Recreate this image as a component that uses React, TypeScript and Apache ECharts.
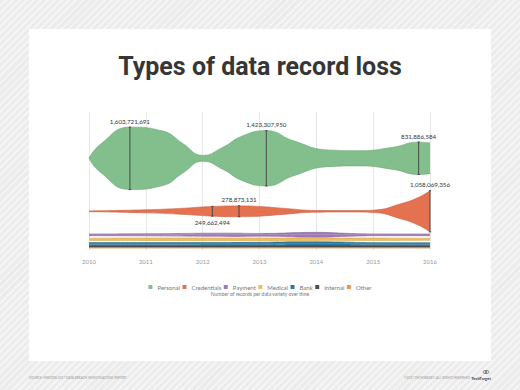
import React, { useEffect, useRef } from 'react';
import * as echarts from 'echarts';

// ---------- data ----------
const seriesNames = ['Personal', 'Credentials', 'Payment', 'Medical', 'Bank', 'Internal', 'Other'];

const personalYears = [2010, 2010.2, 2010.72, 2011.3, 2011.65, 2012, 2012.35, 2012.7, 2013.12, 2013.6, 2014.2, 2014.75, 2015.35, 2015.8, 2016];
const personalValues = [0, 720e6, 1603721691, 1400e6, 760e6, 150e6, 560e6, 1150e6, 1423307950, 900e6, 430e6, 390e6, 570e6, 831886584, 790e6];

const credentialsYears = [2010, 2011, 2011.6, 2012.17, 2012.64, 2013, 2013.4, 2014, 2014.6, 2015, 2015.5, 2015.8, 2016];
const credentialsValues = [20e6, 80e6, 150e6, 249662494, 278873131, 250e6, 160e6, 45e6, 35e6, 60e6, 400e6, 720e6, 1058069356];

const paymentYears = [2010, 2011, 2012.5, 2013, 2014, 2014.6, 2015.2, 2016];
const paymentValues = [45e6, 55e6, 85e6, 70e6, 125e6, 70e6, 45e6, 45e6];

const medicalYears = [2010, 2012, 2014, 2016];
const medicalValues = [60e6, 70e6, 70e6, 55e6];

const bankYears = [2010, 2012, 2013, 2013.8, 2014.3, 2015, 2016];
const bankValues = [50e6, 55e6, 65e6, 90e6, 85e6, 50e6, 45e6];

const internalYears = [2010, 2013, 2016];
const internalValues = [35e6, 35e6, 35e6];

const otherYears = [2010, 2013, 2016];
const otherValues = [15e6, 15e6, 15e6];

const annotationSeries = ['Personal', 'Personal', 'Personal', 'Credentials', 'Credentials', 'Credentials'];
const annotationYears = [2010.72, 2013.12, 2015.8, 2012.17, 2012.64, 2016];
const annotationSides = ['top', 'top', 'top', 'bottom', 'top', 'top'];

// ---------- styles / layout ----------
const seriesColors = ['#82bf8c', '#e4714f', '#9d7cb4', '#eebc62', '#2a7aa0', '#505050', '#e8964a'];
const edgeColors = ['#6aa676', '#cf6043', '#8a6aa0', '#dcaa50', '#236b8d', '#444444', '#d0803a'];
const lanePx = [158.3, 211.3, 234.8, 239.3, 243.6, 246.2, 247.8];

const GRID_TOP = 112;
const GRID_BOTTOM = 250;
const Y_MAX = 3.55e9;
const pxToValue = (py: number) => ((GRID_BOTTOM - py) / (GRID_BOTTOM - GRID_TOP)) * Y_MAX;
const SEAM = Y_MAX / (GRID_BOTTOM - GRID_TOP) * 0.4;

const bandYears = [personalYears, credentialsYears, paymentYears, medicalYears, bankYears, internalYears, otherYears];
const bandValues = [personalValues, credentialsValues, paymentValues, medicalValues, bankValues, internalValues, otherValues];

const FONT = 'Lato, "Noto Sans", sans-serif';

export default function App() {
  const ref = useRef<HTMLDivElement>(null);

  useEffect(() => {
    if (!ref.current) return;
    const chart = echarts.init(ref.current, undefined, { renderer: 'svg' });

    const series: any[] = [];
    seriesNames.forEach((name, i) => {
      const c = pxToValue(lanePx[i]);
      const yrs = bandYears[i];
      const vals = bandValues[i];
      const common = {
        type: 'line',
        smooth: 0.5,
        symbol: 'none',
        color: seriesColors[i],
        itemStyle: { color: seriesColors[i] },
        lineStyle: { width: 0.6, color: edgeColors[i] },
        z: 2,
      };
      series.push({
        ...common,
        name,
        data: yrs.map((y, j) => [y, c + vals[j] / 2]),
        areaStyle: { color: seriesColors[i], opacity: 1, origin: c },
      });
      series.push({
        ...common,
        name: '__lower_' + name,
        silent: true,
        data: yrs.map((y, j) => [y, c - vals[j] / 2]),
        areaStyle: { color: seriesColors[i], opacity: 1, origin: c + SEAM },
      });
    });

    const annData = annotationYears.map((yr, k) => {
      const bi = seriesNames.indexOf(annotationSeries[k]);
      const j = bandYears[bi].indexOf(yr);
      return [yr, pxToValue(lanePx[bi]), bandValues[bi][j], annotationSides[k] === 'top' ? 1 : 0];
    });

    series.push({
      type: 'custom',
      name: 'annotations',
      data: annData,
      encode: { x: 0, y: 1 },
      silent: true,
      z: 5,
      renderItem: (params: any, api: any) => {
        const x = api.value(0);
        const c = api.value(1);
        const v = api.value(2);
        const side = api.value(3);
        const top = api.coord([x, c + v / 2]);
        const bot = api.coord([x, c - v / 2]);
        const label = Math.round(v).toLocaleString('en-US');
        return {
          type: 'group',
          children: [
            { type: 'line', shape: { x1: top[0], y1: top[1], x2: bot[0], y2: bot[1] }, style: { stroke: '#4a4a4a', lineWidth: 1 } },
            { type: 'line', shape: { x1: top[0] - 1.2, y1: top[1], x2: top[0] + 1.2, y2: top[1] }, style: { stroke: '#4a4a4a', lineWidth: 1 } },
            { type: 'line', shape: { x1: bot[0] - 1.2, y1: bot[1], x2: bot[0] + 1.2, y2: bot[1] }, style: { stroke: '#4a4a4a', lineWidth: 1 } },
            {
              type: 'text',
              style: {
                text: label,
                x: top[0],
                y: side === 1 ? top[1] - 3 : bot[1] + 3,
                align: 'center',
                verticalAlign: side === 1 ? 'bottom' : 'top',
                fontSize: 6.2,
                fontFamily: FONT,
                fill: '#333',
              },
            },
          ],
        };
      },
    });

    chart.setOption({
      animation: false,
      graphic: [
        { type: 'rect', shape: { x: 29, y: 29, width: 462, height: 332 }, style: { fill: '#ffffff' }, z: -10 },
        {
          type: 'text',
          x: 260,
          y: 66,
          style: {
            text: 'Types of data record loss',
            align: 'center',
            verticalAlign: 'middle',
            fontSize: 25,
            fontWeight: 'bold',
            fontFamily: 'Roboto, "Noto Sans", sans-serif',
            fill: '#363636',
          },
        },
        {
          type: 'text',
          x: 260,
          y: 293.5,
          style: {
            text: 'Number of records per data variety over time',
            align: 'center',
            verticalAlign: 'middle',
            fontSize: 5,
            fontFamily: FONT,
            fill: '#777',
          },
        },
        {
          type: 'text',
          x: 29,
          y: 378,
          style: {
            text: 'SOURCE: VERIZON 2017 DATA BREACH INVESTIGATIONS REPORT',
            align: 'left',
            verticalAlign: 'middle',
            fontSize: 3.2,
            fontFamily: FONT,
            fill: '#999',
          },
        },
        {
          type: 'text',
          x: 470,
          y: 378,
          style: {
            text: '©2017 TECHTARGET. ALL RIGHTS RESERVED',
            align: 'right',
            verticalAlign: 'middle',
            fontSize: 3.2,
            fontFamily: FONT,
            fill: '#999',
          },
        },
        {
          type: 'text',
          x: 491,
          y: 378,
          style: {
            text: 'TechTarget',
            align: 'right',
            verticalAlign: 'middle',
            fontSize: 4.2,
            fontWeight: 'bold',
            fontFamily: FONT,
            fill: '#444',
          },
        },
        { type: 'ellipse', shape: { cx: 486, cy: 372, rx: 3, ry: 1.6 }, style: { fill: 'none', stroke: '#555', lineWidth: 0.7 } },
        { type: 'circle', shape: { cx: 486, cy: 372, r: 0.9 }, style: { fill: '#555' } },
      ],
      grid: { left: 89, right: 90, top: GRID_TOP, bottom: 390 - GRID_BOTTOM, containLabel: false },
      xAxis: {
        type: 'value',
        min: 2010,
        max: 2016,
        interval: 1,
        axisLine: { show: false },
        axisTick: { show: false },
        splitLine: { show: true, lineStyle: { color: '#e6e6e6', width: 1 } },
        axisLabel: { color: '#999', fontSize: 6, fontFamily: FONT, margin: 8, formatter: (v: number) => String(v) },
      },
      yAxis: { type: 'value', min: 0, max: Y_MAX, show: false, splitLine: { show: false } },
      legend: {
        data: seriesNames.map((n) => ({ name: n, icon: 'rect' })),
        top: 279,
        left: 'center',
        itemWidth: 4,
        itemHeight: 4,
        itemGap: 2.5,
        textStyle: { color: '#777', fontSize: 6, fontFamily: FONT },
        selectedMode: false,
      },
      series,
    });

    return () => chart.dispose();
  }, []);

  return (
    <div
      style={{
        position: 'fixed',
        left: 0,
        top: 0,
        width: 520,
        height: 390,
        background: 'repeating-linear-gradient(135deg, #ececec 0px, #ececec 3px, #f5f5f5 3px, #f5f5f5 5px)',
      }}
    >
      <div ref={ref} style={{ width: 520, height: 390 }} />
    </div>
  );
}
